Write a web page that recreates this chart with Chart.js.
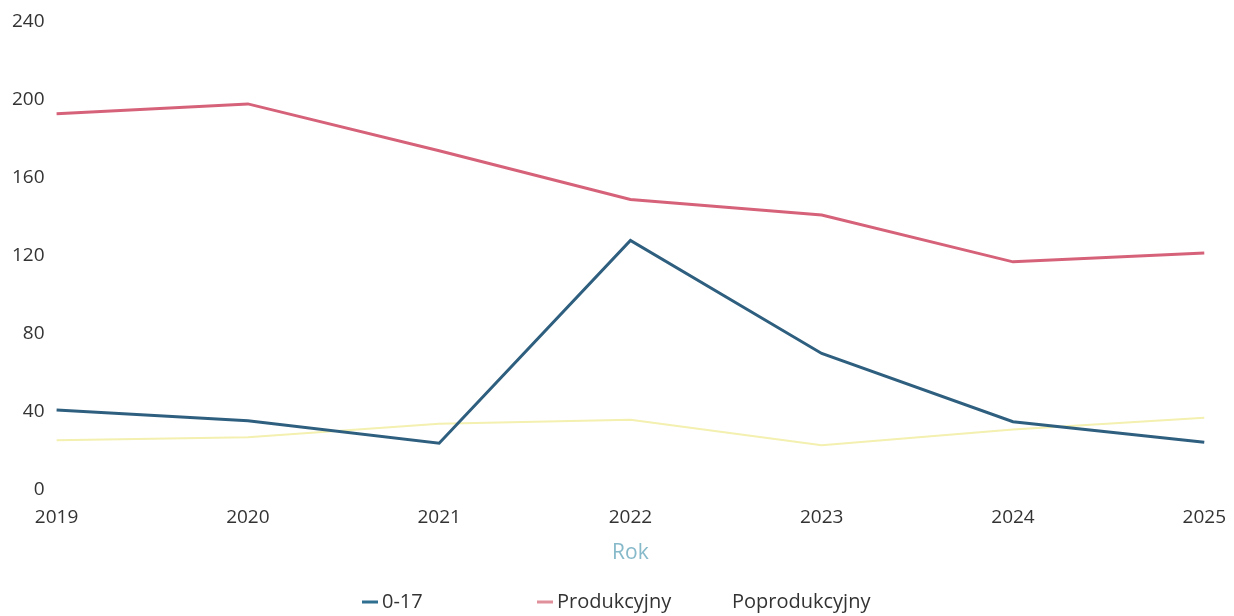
<!DOCTYPE html>
<html>
<head>
<meta charset="utf-8">
<script src="https://cdn.jsdelivr.net/npm/chart.js@4"></script>
<style>
  html, body { margin: 0; padding: 0; background: #fff; }
  #wrap { width: 1234px; height: 616px; }
</style>
</head>
<body>
<div id="wrap"><canvas id="chart"></canvas></div>
<script>
let years = ["2019", "2020", "2021", "2022", "2023", "2024", "2025"];
let young = [41, 35.5, 24, 128, 70, 35, 24.5];
let working = [193, 198, 174, 149, 141, 117, 121.5];
let retired = [25.5, 27, 34, 36, 23, 31, 37];
let yTicks = [0, 40, 80, 120, 160, 200, 240];

Chart.defaults.font.family = "'Open Sans', sans-serif";

// legend with fixed-width slots, drawn under the axis title
const slotLegend = {
  id: 'slotLegend',
  afterDraw(chart) {
    const ctx = chart.ctx;
    const y = 602;
    ctx.save();
    ctx.font = "20px 'Open Sans', sans-serif";
    ctx.textBaseline = 'middle';
    chart.data.datasets.forEach((ds, i) => {
      let x = 362 + i * 175;
      ctx.fillStyle = ds.legendColor;
      ctx.fillRect(x, y - 1.5, 16, 3);
      ctx.fillStyle = '#333';
      ctx.fillText(ds.label, x + 20, y);
    });
    ctx.restore();
  }
};

new Chart(document.getElementById("chart"), {
  type: 'line',
  data: {
    labels: years,
    datasets: [
      {label: '0-17', data: young, borderColor: '#2f5f7f', legendColor: '#2f6f8f', borderWidth: 3},
      {label: 'Produkcyjny', data: working, borderColor: '#d6627a', legendColor: '#e0909a', borderWidth: 3},
      {label: 'Poprodukcyjny', data: retired, borderColor: '#f3f0b0', legendColor: '#ffffff', borderWidth: 2}
    ]
  },
  options: {
    responsive: true,
    maintainAspectRatio: false,
    animation: false,
    elements: {point: {radius: 0}, line: {tension: 0}},
    layout: {padding: {left: 8, right: 15, top: 22, bottom: 46}},
    scales: {
      x: {
        grid: {display: false},
        border: {display: false},
        ticks: {color: '#333', font: {size: 19}, padding: 8, maxRotation: 0},
        title: {display: true, text: 'Rok', color: '#86b9c9', font: {size: 21}, padding: {top: 4, bottom: 4}}
      },
      y: {
        min: 0, max: 240,
        afterBuildTicks: axis => { axis.ticks = yTicks.map(v => ({value: v})); },
        grid: {display: false},
        border: {display: false},
        ticks: {color: '#333', font: {size: 19}, padding: 4}
      }
    },
    plugins: {
      legend: {display: false},
      tooltip: {enabled: false}
    }
  },
  plugins: [slotLegend]
});
</script>
</body>
</html>
